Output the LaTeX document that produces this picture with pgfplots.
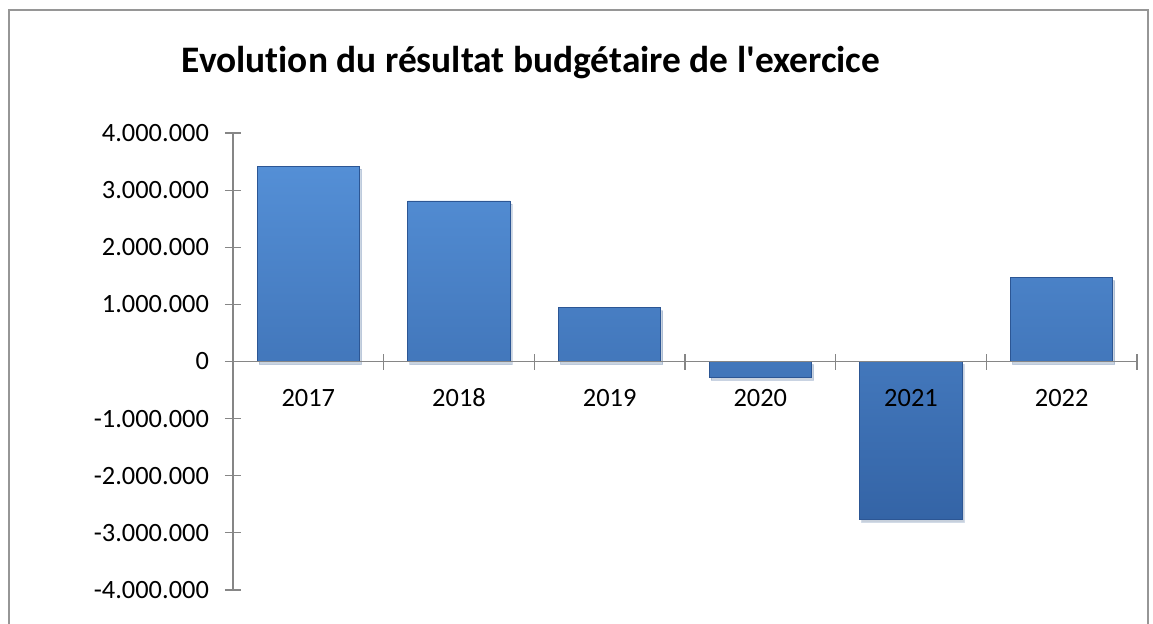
\documentclass[border=0pt]{standalone}
\usepackage{pgfplots}
\pgfplotsset{compat=1.18}
\usetikzlibrary{shadows}
\usepackage{fontspec}
\setmainfont{Carlito}[Ligatures=NoCommon]
\definecolor{axisgray}{RGB}{134,134,134}
\definecolor{framegray}{RGB}{150,150,150}
\definecolor{bartop}{RGB}{84,143,214}
\definecolor{barmid}{RGB}{62,117,188}
\definecolor{barbot}{RGB}{52,100,166}
\definecolor{baredge}{RGB}{44,86,148}
\begin{document}
\begin{tikzpicture}
\path[use as bounding box] (0,0) rectangle (576.5pt,-312pt);
\draw[framegray, line width=1pt] (4.5pt,-5pt) rectangle (574pt,-340pt);
\node[font=\bfseries\fontsize{18.7}{22}\selectfont] at (265.5pt,-31.5pt) {Evolution du résultat budgétaire de l\textquotesingle exercice};
\begin{axis}[
  at={(116.5pt,-295pt)}, anchor=south west,
  scale only axis, width=452pt, height=228.5pt,
  xmin=-0.5, xmax=5.5, ymin=-4000000, ymax=4000000,
  axis x line=middle, axis y line=left,
  axis line style={-, axisgray, line width=0.6pt},
  xtick={0,1,2,3,4,5},
  xticklabels={2017,2018,2019,2020,2021,2022},
  minor xtick={-0.5,0.5,1.5,2.5,3.5,4.5,5.5},
  ytick={-4000000,-3000000,-2000000,-1000000,0,1000000,2000000,3000000,4000000},
  scaled y ticks=false,
  yticklabel style={xshift=-4.5pt, /pgf/number format/.cd, fixed, 1000 sep={.}, assume math mode=true},
  tick align=center,
  major tick length=8pt, minor tick length=8pt,
  major x tick style={draw=none},
  every tick/.style={axisgray, line width=0.6pt},
  minor x tick style={axisgray, line width=0.6pt},
  tick label style={font=\fontsize{13.2}{16}\selectfont, black},
  xticklabel style={yshift=-6pt, text height=9pt, text depth=0pt},
  axis on top,
  clip=false,
]
\addplot[ybar, bar width=0.68, draw=baredge, line width=0.4pt,
  top color=bartop, middle color=barmid, bottom color=barbot,
  drop shadow={shadow xshift=1pt, shadow yshift=-1.5pt, opacity=0.18}] coordinates {
(0,3420000) (1,2810000) (2,940000) (3,-280000) (4,-2760000) (5,1470000)
};
\end{axis}
\end{tikzpicture}
\end{document}
